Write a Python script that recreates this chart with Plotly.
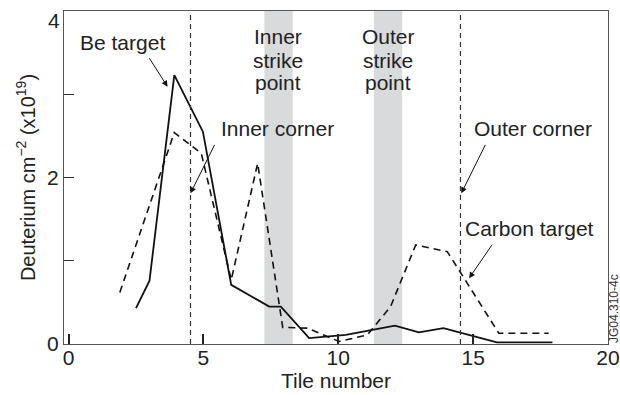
import plotly.graph_objects as go

# Be target (solid)
be_x = [2.5, 3.0, 3.92, 4.98, 6.03, 7.44, 7.87, 8.92, 10.28, 12.1, 12.99, 13.9, 15.88, 17.94]
be_y = [0.43, 0.76, 3.23, 2.55, 0.71, 0.45, 0.45, 0.07, 0.11, 0.22, 0.14, 0.19, 0.02, 0.02]

# Carbon target (dashed)
c_x = [1.9, 3.92, 4.92, 6.03, 7.01, 7.94, 8.86, 10.03, 11.08, 11.94, 12.87, 14.04, 15.95, 17.8]
c_y = [0.62, 2.54, 2.29, 0.77, 2.17, 0.2, 0.19, 0.03, 0.11, 0.45, 1.19, 1.11, 0.13, 0.13]

strike_bands = [(7.26, 8.31), (11.32, 12.37)]
corner_x = [4.52, 14.53]

x_ticks = [0, 5, 10, 15, 20]
y_ticks = [0, 1, 2, 3, 4]
y_ticktext = ["0", "", "2", "", ""]
y_top_label = "4"

FONT = "Liberation Sans, Arial, Helvetica, sans-serif"

fig = go.Figure()

for x0, x1 in strike_bands:
    fig.add_shape(type="rect", xref="x", yref="y", x0=x0, x1=x1, y0=0, y1=4,
                  fillcolor="#d9dadc", line_width=0, layer="below")

for cx in corner_x:
    fig.add_shape(type="line", xref="x", yref="y", x0=cx, x1=cx, y0=0, y1=4,
                  line=dict(color="#333333", width=1.2, dash="5px,4px"))

fig.add_trace(go.Scatter(x=c_x, y=c_y, mode="lines",
                         line=dict(color="#111111", width=1.6, dash="7px,5px"),
                         showlegend=False))
fig.add_trace(go.Scatter(x=be_x, y=be_y, mode="lines",
                         line=dict(color="#111111", width=1.8),
                         showlegend=False))

def arrow_ann(text, tx, ty, hx, hy, lx, ly, anchor):
    fig.add_annotation(x=hx, y=hy, ax=tx, ay=ty, xref="x", yref="y", axref="x", ayref="y",
                       text="", showarrow=True, arrowhead=2, arrowsize=1.2, arrowwidth=1,
                       arrowcolor="#111111")
    fig.add_annotation(x=lx, y=ly, xref="x", yref="y", text=text, showarrow=False,
                       xanchor=anchor, yanchor="middle",
                       font=dict(family=FONT, size=21, color="#222222"))

arrow_ann("Be target", 2.96, 3.45, 3.67, 3.09, 2.0, 3.62, "center")
arrow_ann("Inner corner", 5.44, 2.41, 4.52, 1.81, 5.56, 2.59, "left")
arrow_ann("Outer corner", 15.48, 2.41, 14.56, 1.81, 14.96, 2.59, "left")
arrow_ann("Carbon target", 15.74, 1.21, 14.85, 0.79, 14.63, 1.39, "left")

strike_lines = [["Inner", "strike", "point"], ["Outer", "strike", "point"]]
strike_cx = [7.78, 11.85]
line_y = [3.69, 3.41, 3.14]
for words, cx in zip(strike_lines, strike_cx):
    for w, ly in zip(words, line_y):
        fig.add_annotation(x=cx, y=ly, xref="x", yref="y", text=w, showarrow=False,
                           xanchor="center", yanchor="middle",
                           font=dict(family=FONT, size=21, color="#222222"))

# top y tick label, placed just below the frame top like the reference
fig.add_annotation(x=0, y=4, xref="paper", yref="y", text=y_top_label, showarrow=False,
                   xanchor="right", yanchor="top", xshift=-2, yshift=4,
                   font=dict(family=FONT, size=21, color="#222222"))

fig.add_annotation(x=1.0, y=0.42, xref="paper", yref="y", text="JG04.310-4c",
                   showarrow=False, textangle=-90, xanchor="center", yanchor="middle",
                   xshift=6, font=dict(family=FONT, size=12, color="#333333"))

fig.update_layout(
    width=620, height=395,
    margin=dict(l=64, r=12, t=11, b=51),
    paper_bgcolor="white", plot_bgcolor="white",
    font=dict(family=FONT, size=21, color="#222222"),
    xaxis=dict(range=[-0.17, 20], tickvals=x_ticks, ticks="inside", ticklen=10,
               tickwidth=1.5, tickcolor="#222222", showgrid=False, zeroline=False,
               showline=True, linecolor="#555555", linewidth=1.2, mirror=True,
               automargin=False, ticklabelstandoff=-5,
               tickfont=dict(family=FONT, size=21),
               title=dict(text="Tile number", font=dict(family=FONT, size=21), standoff=4)),
    yaxis=dict(range=[0, 4], tickvals=y_ticks, ticktext=y_ticktext, ticks="inside",
               ticklen=10, tickwidth=1, tickcolor="#333333", showgrid=False, zeroline=False,
               showline=True, linecolor="#555555", linewidth=1.2, mirror=True,
               automargin=False,
               tickfont=dict(family=FONT, size=21),
               title=dict(text="Deuterium cm<sup>−2</sup> (x10<sup>19</sup>)",
                          font=dict(family=FONT, size=20), standoff=6)),
)

fig.write_html("out.html")
